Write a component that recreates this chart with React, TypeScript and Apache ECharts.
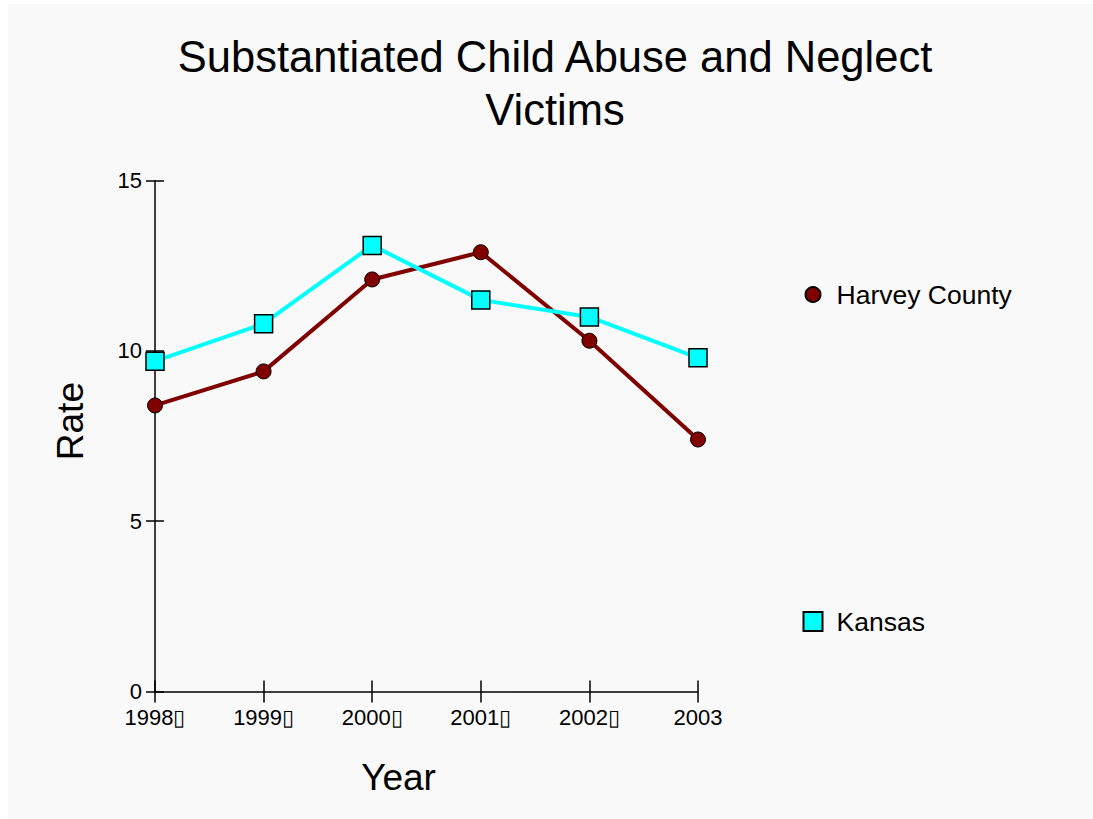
import { useEffect, useRef } from "react";
import * as echarts from "echarts";

// Year labels as they appear under the axis ticks
const yearLabels = ["1998\u25AF", "1999\u25AF", "2000\u25AF", "2001\u25AF", "2002\u25AF", "2003"];

// Rate of substantiated victims per year
const harveyCounty = [8.4, 9.4, 12.1, 12.9, 10.3, 7.4];
const kansas = [9.7, 10.8, 13.1, 11.5, 11.0, 9.8];

// Rate axis range
const rateMin = 0;
const rateMax = 15;
const rateStep = 5;

const FONT = "'Liberation Sans', Arial, Helvetica, sans-serif";
const HARVEY_COLOR = "#800000";
const KANSAS_COLOR = "#00ffff";

export default function App() {
  const ref = useRef<HTMLDivElement>(null);

  useEffect(() => {
    if (!ref.current) return;
    const chart = echarts.init(ref.current, null, { renderer: "svg" });

    const axisLine = { show: true, lineStyle: { color: "#000", width: 1.5 } };

    chart.setOption({
      animation: false,
      backgroundColor: "#f9f9f9",
      textStyle: { fontFamily: FONT },
      title: {
        text: "Substantiated Child Abuse and Neglect\nVictims",
        left: 547,
        top: 26.5,
        padding: 0,
        textAlign: "center",
        textStyle: {
          fontFamily: FONT,
          fontSize: 43.5,
          lineHeight: 53,
          fontWeight: "normal",
          color: "#000",
        },
      },
      legend: [
        {
          data: [{ name: "Harvey County", icon: "circle" }],
          left: 796.5,
          top: 277,
          padding: 0,
          itemWidth: 15,
          itemHeight: 15,
          textStyle: { fontFamily: FONT, fontSize: 26.5, color: "#000", padding: [0, 0, 0, 11] },
        },
        {
          data: [{ name: "Kansas", icon: "rect" }],
          left: 794.5,
          top: 604,
          padding: 0,
          itemWidth: 19,
          itemHeight: 19,
          textStyle: { fontFamily: FONT, fontSize: 26.5, color: "#000", padding: [0, 0, 0, 9] },
        },
      ],
      grid: { left: 147, right: 395, top: 176.7, bottom: 127.5, containLabel: false },
      xAxis: [
        {
          type: "category",
          data: yearLabels,
          boundaryGap: false,
          name: "Year",
          nameLocation: "middle",
          nameGap: 67,
          nameTextStyle: { fontFamily: FONT, fontSize: 37, color: "#000", padding: [0, 56, 0, 0] },
          axisLine,
          axisTick: { show: true, inside: false, length: 11, lineStyle: { color: "#000", width: 1.5 } },
          axisLabel: { fontFamily: FONT, fontSize: 22, color: "#000", margin: 15, interval: 0 },
          splitLine: { show: false },
        },
        {
          type: "category",
          data: yearLabels,
          boundaryGap: false,
          position: "bottom",
          axisLine: { show: false },
          axisTick: { show: true, inside: true, length: 11, lineStyle: { color: "#000", width: 1.5 } },
          axisLabel: { show: false },
          splitLine: { show: false },
        },
      ],
      yAxis: [
        {
          type: "value",
          min: rateMin,
          max: rateMax,
          interval: rateStep,
          name: "Rate",
          nameLocation: "middle",
          nameGap: 66.5,
          nameRotate: 90,
          nameTextStyle: { fontFamily: FONT, fontSize: 37, color: "#000", padding: [0, 0, 0, 30] },
          axisLine,
          axisTick: { show: true, inside: false, length: 9, lineStyle: { color: "#000", width: 1.5 } },
          axisLabel: { fontFamily: FONT, fontSize: 22, color: "#000", margin: 13 },
          splitLine: { show: false },
        },
        {
          type: "value",
          min: rateMin,
          max: rateMax,
          interval: rateStep,
          position: "left",
          axisLine: { show: false },
          axisTick: { show: true, inside: true, length: 9, lineStyle: { color: "#000", width: 1.5 } },
          axisLabel: { show: false },
          splitLine: { show: false },
        },
      ],
      series: [
        {
          name: "Harvey County",
          type: "line",
          data: harveyCounty,
          symbol: "circle",
          symbolSize: 15,
          lineStyle: { color: HARVEY_COLOR, width: 4 },
          itemStyle: { color: HARVEY_COLOR, borderColor: "#000", borderWidth: 1 },
        },
        {
          name: "Kansas",
          type: "line",
          data: kansas,
          symbol: "rect",
          symbolSize: 18,
          lineStyle: { color: KANSAS_COLOR, width: 4 },
          itemStyle: { color: KANSAS_COLOR, borderColor: "#000", borderWidth: 1.5 },
        },
      ],
    });

    return () => chart.dispose();
  }, []);

  return (
    <div
      ref={ref}
      style={{ position: "absolute", left: 8, top: 4, width: 1085, height: 815, background: "#f9f9f9" }}
    />
  );
}
